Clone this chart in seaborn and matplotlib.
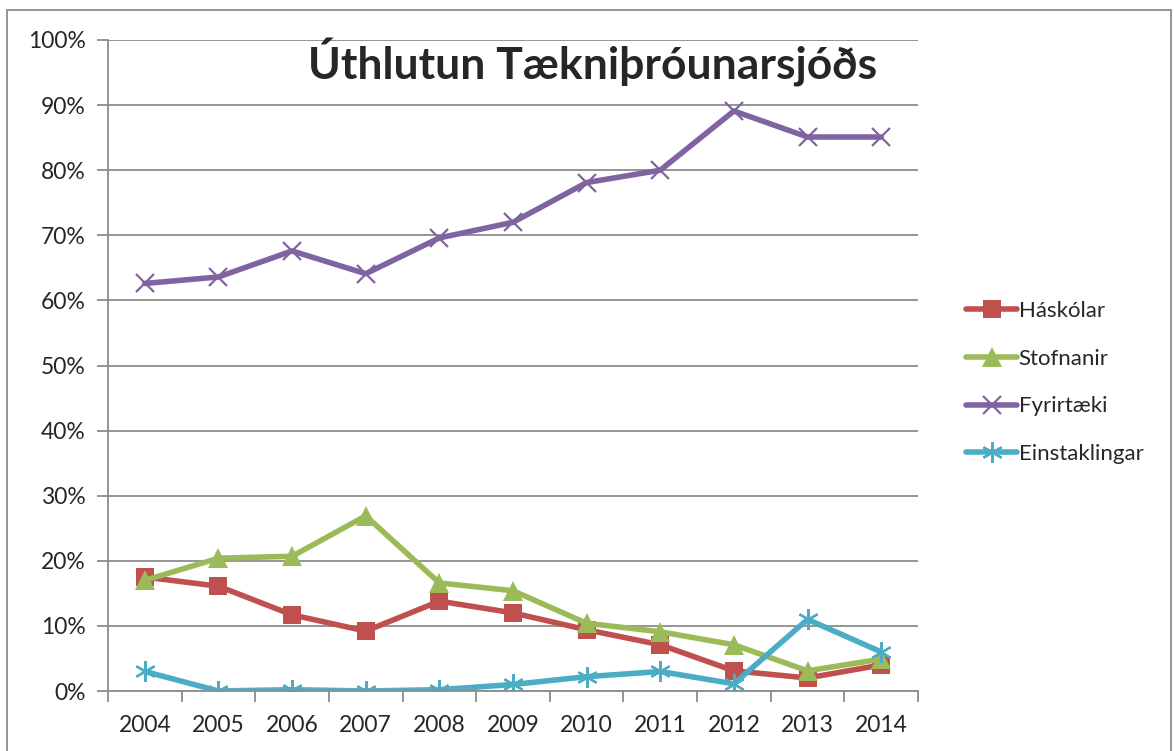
import pandas as pd
import seaborn as sns
import matplotlib.pyplot as plt
from matplotlib.patches import Rectangle
from matplotlib.ticker import FixedLocator, PercentFormatter

years = list(range(2004, 2015))
haskolar = [17.5, 16.1, 11.7, 9.2, 13.8, 12.0, 9.4, 7.1, 3.1, 2.0, 4.0]
stofnanir = [17.0, 20.4, 20.7, 26.9, 16.6, 15.4, 10.4, 9.1, 7.1, 3.1, 4.9]
fyrirtaeki = [62.6, 63.6, 67.6, 64.1, 69.6, 72.0, 78.1, 80.0, 89.1, 85.1, 85.1]
einstaklingar = [3.0, 0.0, 0.2, 0.0, 0.2, 1.0, 2.2, 3.0, 1.1, 11.0, 6.0]

series = ["Háskólar", "Stofnanir", "Fyrirtæki", "Einstaklingar"]
values = [haskolar, stofnanir, fyrirtaeki, einstaklingar]
colors = ["#C0504D", "#9BBB59", "#8064A2", "#4BACC6"]
markers = ["s", "^", "x", (6, 2, 0)]
msizes = [13.5, 14, 13, 15]

df = pd.DataFrame({
    "year": years * len(series),
    "share": sum(values, []),
    "group": [s for s in series for _ in years],
})

sns.set_theme(style="white")
plt.rcParams["font.family"] = ["Lato", "DejaVu Sans"]

fig = plt.figure(figsize=(11.74, 7.51), dpi=100)
ax = fig.add_axes([108 / 1174, 1 - 691 / 751, 810 / 1174, 651 / 751])

for name, col, mk, ms in zip(series, colors, markers, msizes):
    d = df[df["group"] == name]
    sns.lineplot(data=d, x="year", y="share", ax=ax, color=col, linewidth=4,
                 marker=mk, markersize=ms, markeredgewidth=1.6 if mk in ("x", (6, 2, 0)) else 0,
                 markeredgecolor=col, label=name)

ax.set_xlim(2003.5, 2014.5)
ax.set_ylim(0, 100)
ax.yaxis.set_major_locator(FixedLocator(range(0, 101, 10)))
ax.yaxis.set_major_formatter(PercentFormatter(decimals=0))
ax.set_xticks(years)
ax.set_xticklabels([str(y) for y in years])
ax.xaxis.set_minor_locator(FixedLocator([y + 0.5 for y in range(2003, 2015)]))
ax.grid(axis="y", color="#8c8c8c", linewidth=1.3)
ax.set_axisbelow(True)
for s in ["top", "right"]:
    ax.spines[s].set_visible(False)
for s in ["left", "bottom"]:
    ax.spines[s].set_color("#8c8c8c")
    ax.spines[s].set_linewidth(1.3)
ax.tick_params(axis="y", which="major", left=True, length=8, width=1.3, color="#8c8c8c",
               labelsize=16.5, pad=8)
ax.tick_params(axis="x", which="major", bottom=False, labelsize=16.5, pad=11)
ax.tick_params(axis="x", which="minor", bottom=True, length=8, width=1.3, color="#8c8c8c")
ax.set_xlabel("")
ax.set_ylabel("")

ax.text(0.598, 0.966, "Úthlutun Tækniþróunarsjóðs", transform=ax.transAxes,
        ha="center", va="center", fontsize=32, fontweight="bold")

ax.legend(loc="center left", bbox_to_anchor=(1.035, 0.474), frameon=False,
          fontsize=16, handlelength=2.3, labelspacing=1.25, handletextpad=0.05)

fig.patches.append(Rectangle((7 / 1174, -0.02), 1164 / 1174, 1 - 10 / 751 + 0.02,
                             transform=fig.transFigure, fill=False,
                             edgecolor="#8c8c8c", linewidth=1.3))

fig.savefig("out.png", dpi=100)
